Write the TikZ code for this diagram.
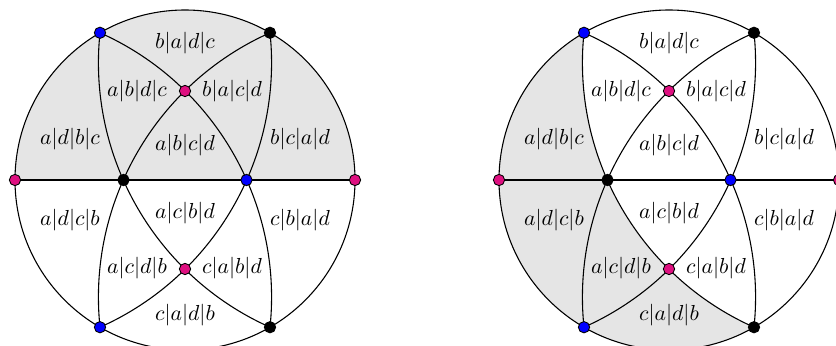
\documentclass[tikz,border=0pt]{standalone}
\usepackage{amsmath, amssymb}
\usepackage{tikz}
\usetikzlibrary{positioning, calc}

\definecolor{dotmagenta}{RGB}{222,16,128}

\begin{document}
\begin{tikzpicture}[
    x=0.46pt, y=0.46pt,
    % Thin black boundary and arrangement curves
    curve/.style={
        draw=black,
        line width=0.5pt
    },
    % Light grey shaded cell union
    region/.style={
        fill=gray!20
    },
    % Two curved lobes of each diagonal
    lobe left/.style={bend left=36, looseness=0.94},
    lobe right/.style={bend right=36, looseness=0.94},
    % Coloured vertices with black rim
    vertex/.style={
        circle,
        draw=black,
        line width=0.4pt,
        inner sep=0pt,
        minimum size=5.2pt
    },
    % Permutation labels of the cells
    perm/.style={
        inner sep=1pt
    }
]

\useasboundingbox (0,0) rectangle (836,345);
\clip (0,0) rectangle (836,345);

% --- POINTS: boundary and inner crossings of both discs ---
\foreach \c/\cx in {L/185, R/669} {
    \begin{scope}[shift={(\cx,165)}]
        \coordinate (O\c)  at (0,0);
        \coordinate (E\c)  at (0:170);
        \coordinate (TK\c) at (60:170);
        \coordinate (TB\c) at (120:170);
        \coordinate (W\c)  at (180:170);
        \coordinate (BB\c) at (240:170);
        \coordinate (BK\c) at (300:170);
        \coordinate (IK\c) at (-61.5,0);
        \coordinate (IB\c) at (61.5,0);
        \coordinate (MT\c) at (0,89);
        \coordinate (MB\c) at (0,-89);
    \end{scope}
}

% --- SHADING: upper half on the left, cells left of one lobe on the right ---
\fill[region] (EL) arc[start angle=0, end angle=180, radius=170] -- cycle;
\fill[region] (TBR) to[lobe right] (BKR) arc[start angle=300, end angle=120, radius=170] -- cycle;

% --- DISCS: curves, vertices and cell labels ---
\foreach \c in {L, R} {
    \draw[curve] (O\c) circle[radius=170];
    \draw[curve] (W\c) -- (E\c);
    \draw[curve] (TB\c) to[lobe left] (BK\c);
    \draw[curve] (TB\c) to[lobe right] (BK\c);
    \draw[curve] (TK\c) to[lobe right] (BB\c);
    \draw[curve] (TK\c) to[lobe left] (BB\c);

    \foreach \p/\col in {E/dotmagenta, W/dotmagenta, MT/dotmagenta, MB/dotmagenta,
                         TB/blue, BB/blue, IB/blue, TK/black, BK/black, IK/black}
        \node[vertex, fill=\col] (d\p\c) at (\p\c) {};

    \foreach \pos/\txt [count=\k] in {
            {0,137}/b|a|d|c, {-48,89}/a|b|d|c, {47,89}/b|a|c|d,
            {-115,41}/a|d|b|c, {0,35}/a|b|c|d, {115,41}/b|c|a|d,
            {-115,-40}/a|d|c|b, {0,-33}/a|c|b|d, {115,-40}/c|b|a|d,
            {-48,-88}/a|c|d|b, {47,-88}/c|a|b|d, {0,-135}/c|a|d|b}
        \node[perm] (P\c\k) at ($(O\c)+(\pos)$) {$\txt$};
}

\end{tikzpicture}
\end{document}
